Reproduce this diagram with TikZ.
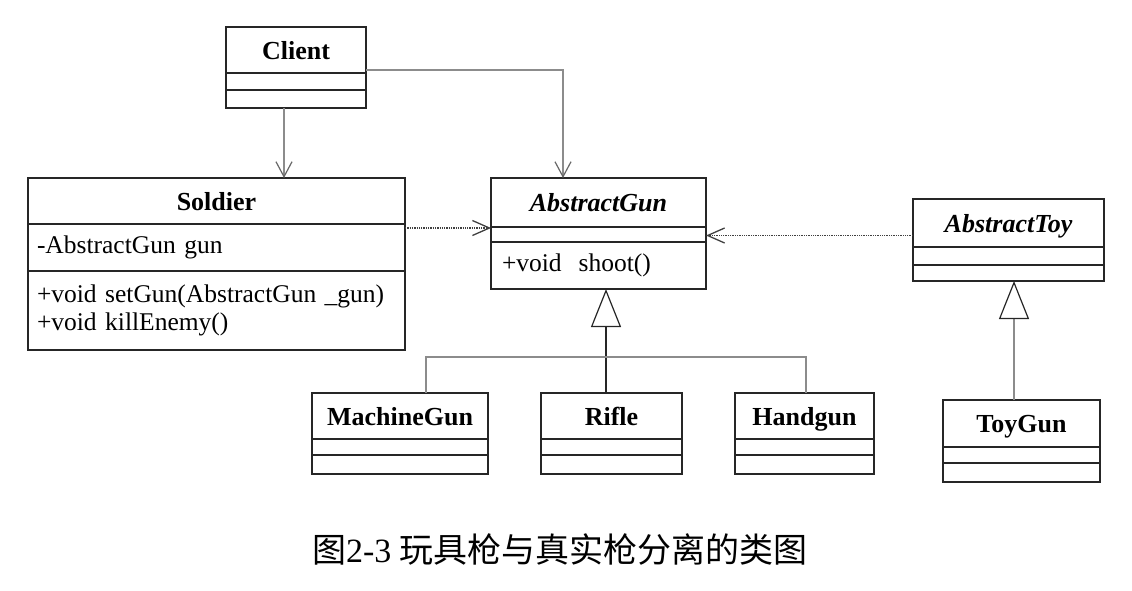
\documentclass[tikz,border=0pt]{standalone}
\usepackage{fontspec}
\setmainfont{Liberation Serif}
\newfontfamily\cjk{Noto Sans CJK SC}
\usetikzlibrary{arrows.meta,positioning}

\begin{document}
\begin{tikzpicture}[x=1pt,y=-1pt,
	cls/.style={draw=black!85,line width=1.4pt,rectangle,inner sep=0pt,outer sep=0pt,text height=18pt,text depth=0pt,font=\fontsize{26}{30}\selectfont\bfseries},
	abscls/.style={cls,font=\fontsize{26}{30}\selectfont\bfseries\itshape},
	slot/.style={draw=black!85,line width=1.4pt,rectangle,inner sep=0pt,outer sep=0pt,below=0pt of #1},
	slottext/.style={font=\fontsize{25.5}{28}\selectfont,align=left,inner xsep=9pt},
	assoc/.style={draw=black!45,line width=1.2pt,-{Straight Barb[length=15pt,width=16pt,color=black!60]}},
	dep/.style={draw=black!75,line width=1.3pt,dash pattern=on 1.3pt off 1pt,-{Straight Barb[length=17pt,width=15pt]}},
	gen/.style={line width=1.2pt,-{Triangle[open,length=38pt,width=30pt,color=black!85]}},
	tree/.style={draw=black!45,line width=1.2pt}]
	\useasboundingbox (0,0) rectangle (1132,590);
	% classes
	\node[cls,minimum width=140pt,minimum height=46pt] (client) at (296,50) {Client};
	\node[slot=client,minimum width=140pt,minimum height=17pt] (client2) {};
	\node[slot=client2,minimum width=140pt,minimum height=18pt] (client3) {};
	\node[cls,minimum width=377pt,minimum height=46pt] (soldier) at (216.5,201) {Soldier};
	\node[slot=soldier,slottext,text width=359pt,minimum height=47pt] (soldier2) {-AbstractGun gun};
	\node[slot=soldier2,slottext,text width=359pt,minimum height=79pt] (soldier3) {+void setGun(AbstractGun \_gun)\\+void killEnemy()};
	\node[abscls,minimum width=215pt,minimum height=49pt] (agun) at (598.5,202.5) {AbstractGun};
	\node[slot=agun,minimum width=215pt,minimum height=15pt] (agun2) {};
	\node[slot=agun2,slottext,inner xsep=11pt,text width=193pt,minimum height=47pt] (agun3) {+void\ \ shoot()};
	\node[abscls,minimum width=191pt,minimum height=48pt] (atoy) at (1008.5,223) {AbstractToy};
	\node[slot=atoy,minimum width=191pt,minimum height=18pt] (atoy2) {};
	\node[slot=atoy2,minimum width=191pt,minimum height=16pt] (atoy3) {};
	\node[cls,minimum width=176pt,minimum height=46pt] (mgun) at (400,416) {MachineGun};
	\node[slot=mgun,minimum width=176pt,minimum height=16pt] (mgun2) {};
	\node[slot=mgun2,minimum width=176pt,minimum height=19pt] (mgun3) {};
	\node[cls,minimum width=141pt,minimum height=46pt] (rifle) at (611.5,416) {Rifle};
	\node[slot=rifle,minimum width=141pt,minimum height=16pt] (rifle2) {};
	\node[slot=rifle2,minimum width=141pt,minimum height=19pt] (rifle3) {};
	\node[cls,minimum width=139pt,minimum height=46pt] (hgun) at (804.5,416) {Handgun};
	\node[slot=hgun,minimum width=139pt,minimum height=16pt] (hgun2) {};
	\node[slot=hgun2,minimum width=139pt,minimum height=19pt] (hgun3) {};
	\node[cls,minimum width=157pt,minimum height=47pt] (tgun) at (1021.5,423.5) {ToyGun};
	\node[slot=tgun,minimum width=157pt,minimum height=16pt] (tgun2) {};
	\node[slot=tgun2,minimum width=157pt,minimum height=19pt] (tgun3) {};
	% connectors
	\draw[assoc] ([xshift=-12pt]client3.south) -- ([xshift=-12pt]client3.south |- soldier.north);
	\draw[assoc] ([yshift=-20pt]client.east) -| ([xshift=-35.5pt]agun.north);
	\draw[dep] ([yshift=-27pt]soldier.east) -- ([yshift=-27pt]soldier.east -| agun.west);
	\draw[dep] ([yshift=-12.5pt]atoy.west) -- ([yshift=-12.5pt]atoy.west -| agun2.east);
	\coordinate (bus) at (606,357);
	\draw[gen,black!85] ([xshift=-5.5pt]rifle.north) -- ([xshift=-5.5pt]rifle.north |- agun3.south);
	\draw[tree] ([xshift=26pt]mgun.north) |- (bus) -| ([xshift=1.5pt]hgun.north);
	\draw[gen,black!45] ([xshift=-7.5pt]tgun.north) -- ([xshift=-7.5pt]tgun.north |- atoy3.south);
	% caption
	\node[font=\fontsize{34}{40}\selectfont] (cap) at (560,549) {{\cjk 图}2-3 {\cjk 玩具枪与真实枪分离的类图}};
\end{tikzpicture}
\end{document}
